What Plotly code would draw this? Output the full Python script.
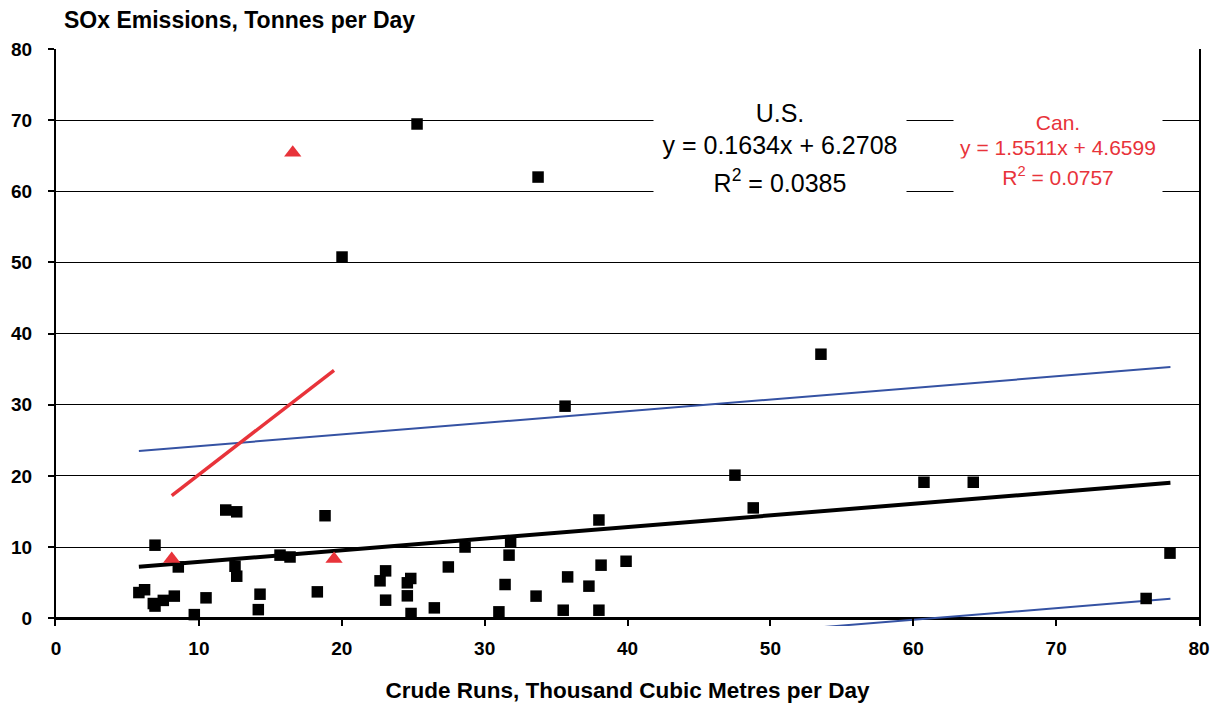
import plotly.graph_objects as go

# U.S. refineries (black squares)
us_x = [5.8, 6.2, 6.93, 6.81, 6.93, 7.51, 8.28, 8.56, 9.68, 10.5, 11.88, 12.65, 12.53, 12.65,
        14.16, 14.28, 15.68, 16.38, 18.29, 18.83, 20.02, 22.68, 23.07, 23.07, 24.59, 24.59,
        24.83, 24.85, 25.27, 26.48, 27.46, 28.63, 31.0, 31.43, 31.71, 31.82, 33.6, 33.74,
        35.5, 35.63, 35.81, 37.3, 38.0, 38.0, 38.15, 39.9, 47.52, 48.8, 53.54, 60.75, 64.2,
        76.3, 77.97]
us_y = [3.6, 4.0, 10.26, 2.06, 1.7, 2.5, 3.1, 7.2, 0.5, 2.86, 15.2, 14.95, 7.3, 5.9,
        1.2, 3.37, 8.86, 8.6, 3.7, 14.4, 50.76, 5.25, 6.65, 2.53, 4.97, 3.14,
        5.58, 0.66, 69.46, 1.45, 7.2, 10.0, 0.89, 4.73, 8.86, 10.7, 3.1, 62.0,
        1.12, 29.8, 5.8, 4.5, 13.8, 1.12, 7.45, 8.0, 20.1, 15.5, 37.1, 19.1, 19.1,
        2.77, 9.14]

# Canadian refineries (red triangles)
can_x = [8.1, 16.57, 19.46]
can_y = [8.3, 65.4, 8.3]

# Trend lines (endpoints)
us_fit_x = [5.8, 78.0]
us_fit_y = [7.22, 19.02]
can_fit_x = [8.1, 19.46]
can_fit_y = [17.22, 34.84]
band_hi_x = [5.8, 78.0]
band_hi_y = [23.5, 35.3]
band_lo_x = [5.8, 78.0]
band_lo_y = [-9.08, 2.72]

x_ticks = [0, 10, 20, 30, 40, 50, 60, 70, 80]
y_ticks = [0, 10, 20, 30, 40, 50, 60, 70, 80]

us_lines = ["U.S.", "y = 0.1634x + 6.2708", "R<sup>2</sup> = 0.0385"]
can_lines = ["Can.", "y = 1.5511x + 4.6599", "R<sup>2</sup> = 0.0757"]

RED = "#e8333a"
BLUE = "#3552a3"
FONT = "Liberation Sans, Arial, sans-serif"

fig = go.Figure()
fig.add_trace(go.Scatter(x=band_hi_x, y=band_hi_y, mode="lines",
                         line=dict(color=BLUE, width=2), hoverinfo="skip"))
fig.add_trace(go.Scatter(x=band_lo_x, y=band_lo_y, mode="lines",
                         line=dict(color=BLUE, width=2), hoverinfo="skip"))
fig.add_trace(go.Scatter(x=can_fit_x, y=can_fit_y, mode="lines",
                         line=dict(color=RED, width=3.5)))
fig.add_trace(go.Scatter(x=us_fit_x, y=us_fit_y, mode="lines",
                         line=dict(color="black", width=4)))
fig.add_trace(go.Scatter(x=us_x, y=us_y, mode="markers",
                         marker=dict(symbol="square", size=11.5, color="black")))
fig.add_trace(go.Scatter(x=can_x, y=can_y, mode="markers",
                         marker=dict(symbol="triangle-up", size=15, color=RED)))

# equation boxes (white backgrounds hide the gridlines behind them)
us_pos = [(50.67, 71.0, 40), (50.67, 66.5, 30), (50.67, 61.4, 40)]
for txt, (ax, ay, h) in zip(us_lines, us_pos):
    fig.add_annotation(x=ax, y=ay, xref="x", yref="y", text=txt, showarrow=False,
                       bgcolor="white", width=252, height=h, borderpad=0,
                       font=dict(family=FONT, size=25, color="black"), align="center")
can_pos = [(70.1, 69.7, 36), (70.1, 66.2, 24), (70.1, 62.1, 34)]
for txt, (ax, ay, h) in zip(can_lines, can_pos):
    fig.add_annotation(x=ax, y=ay, xref="x", yref="y", text=txt, showarrow=False,
                       bgcolor="white", width=208, height=h, borderpad=0,
                       font=dict(family=FONT, size=21, color=RED), align="center")

fig.add_annotation(x=0.005, y=1.0503, xref="paper", yref="paper",
                   text="<b>SOx Emissions, Tonnes per Day</b>", showarrow=False,
                   xanchor="left", yanchor="middle",
                   font=dict(family=FONT, size=23, color="black"))

fig.update_layout(
    width=1228, height=704,
    margin=dict(l=56, r=29, t=49, b=78, autoexpand=False),
    paper_bgcolor="white", plot_bgcolor="white",
    showlegend=False,
    font=dict(family=FONT, color="black"),
    xaxis=dict(range=[0, 80], tickvals=x_ticks, ticktext=[str(v) for v in x_ticks],
               showgrid=False, showline=False, automargin=False,
               zeroline=True, zerolinecolor="black", zerolinewidth=3,
               ticks="inside", ticklen=8, tickwidth=2, tickcolor="black",
               ticklabelstandoff=9,
               tickfont=dict(family=FONT, size=19, color="black", weight="bold"),
               title=dict(text="<b>Crude Runs, Thousand Cubic Metres per Day</b>",
                          font=dict(family=FONT, size=22.5, color="black"), standoff=24)),
    yaxis=dict(range=[-1.1, 80], tickvals=y_ticks, ticktext=[str(v) for v in y_ticks],
               showgrid=True, gridcolor="black", gridwidth=1, automargin=False,
               showline=True, mirror=True, linecolor="black", linewidth=2,
               zeroline=True, zerolinecolor="black", zerolinewidth=3,
               ticks="outside", ticklen=6, tickwidth=2, tickcolor="black",
               ticklabelstandoff=12,
               tickfont=dict(family=FONT, size=19, color="black", weight="bold")),
)

fig.write_html("out.html")
